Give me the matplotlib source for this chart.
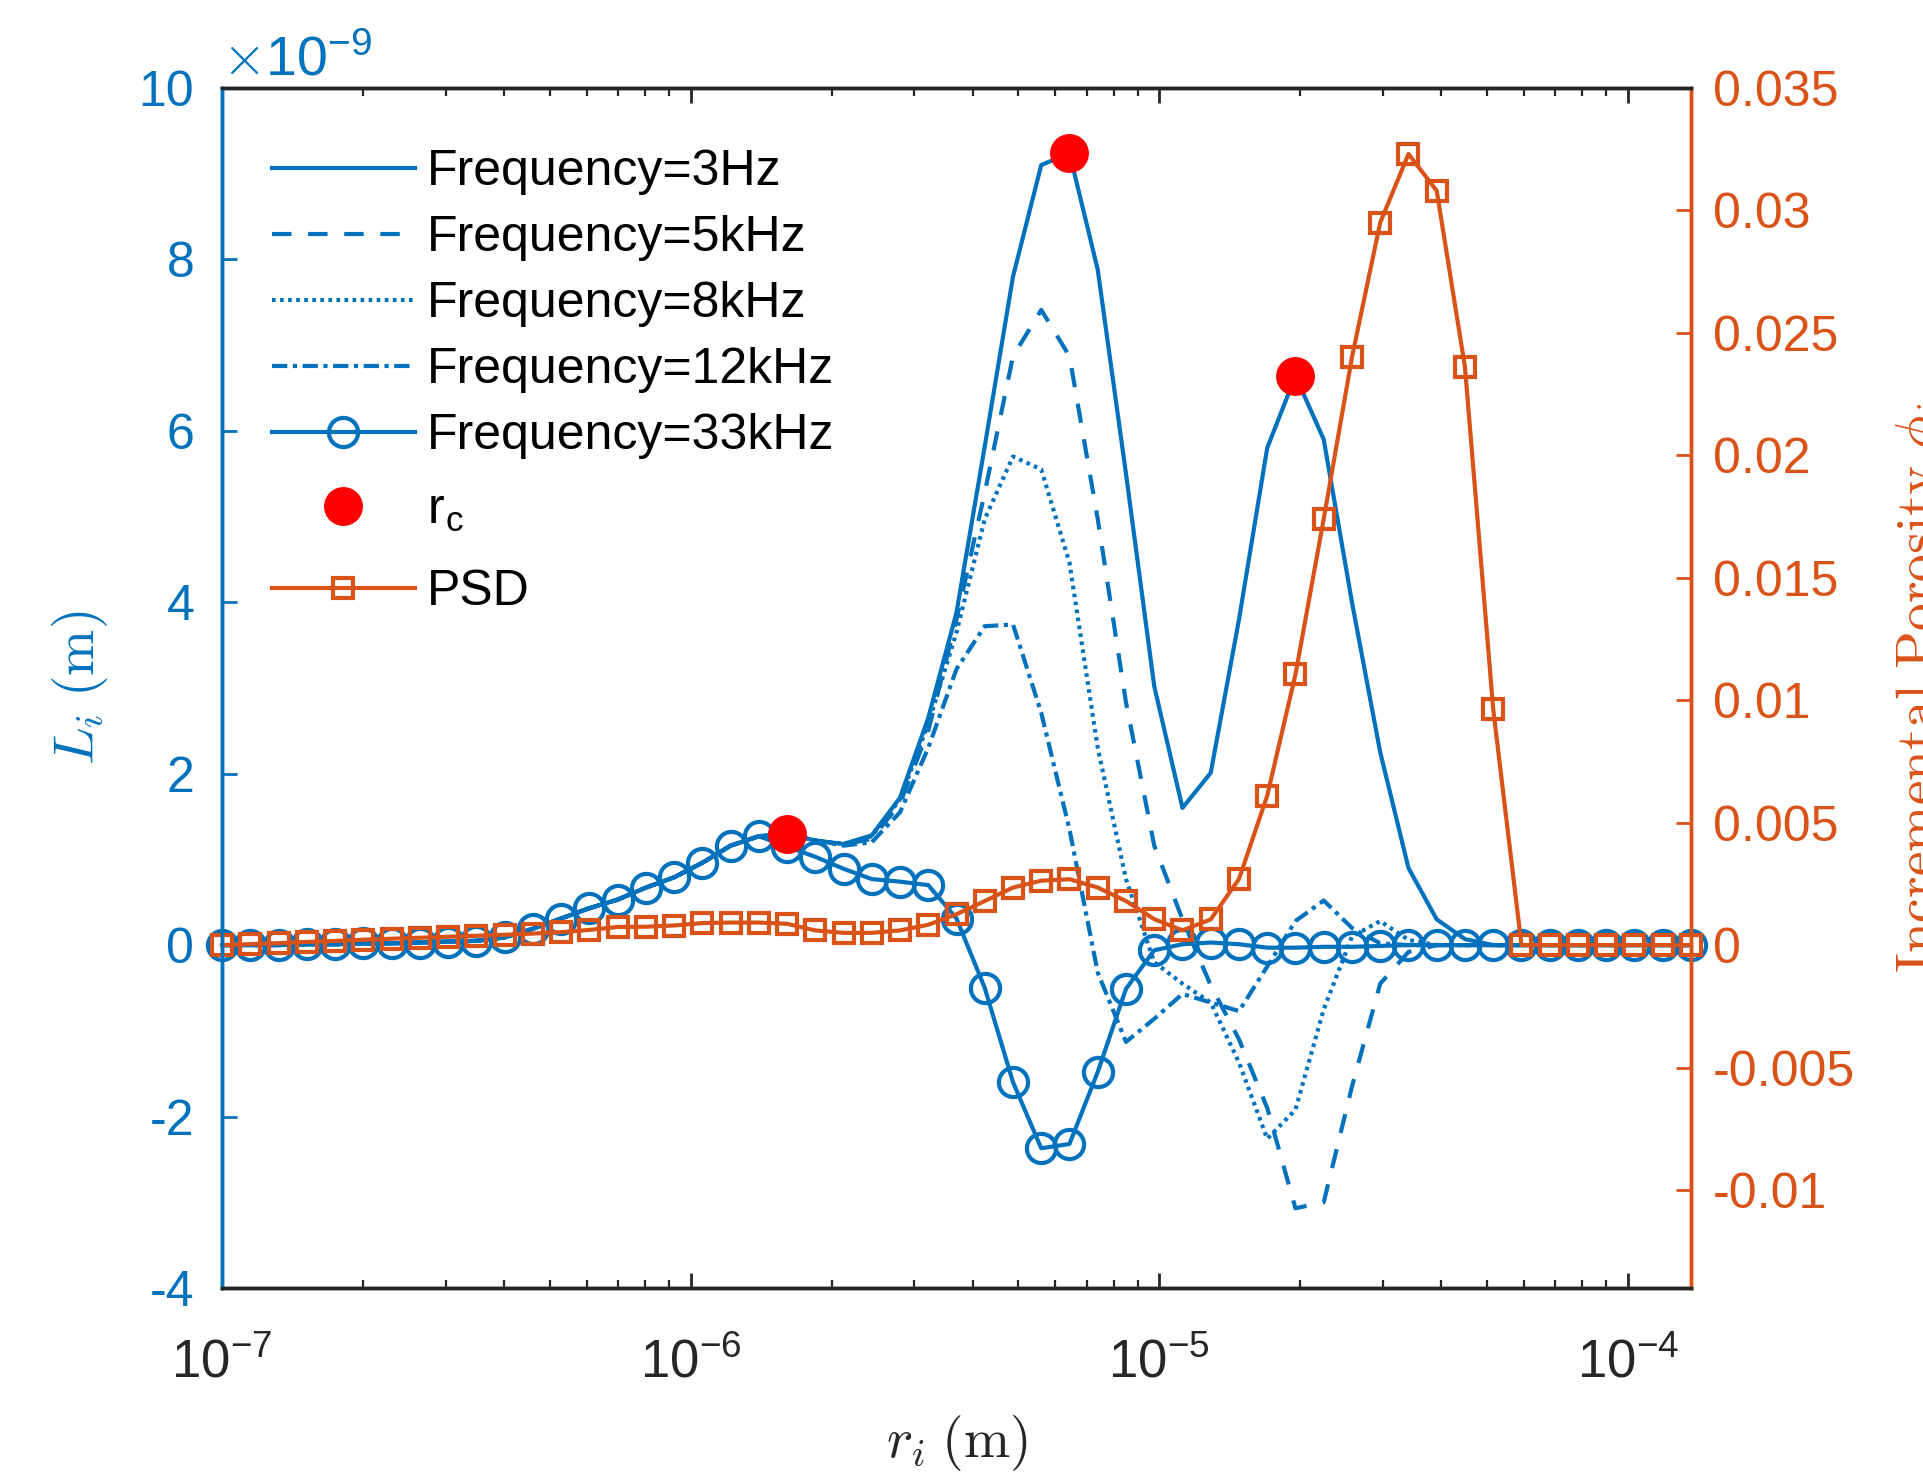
import numpy as np
import matplotlib
matplotlib.use('Agg')
import matplotlib.pyplot as plt
from matplotlib.ticker import ScalarFormatter, LogLocator, NullFormatter

# ---------------- data ----------------
# pore radius r_i (m)
r = [1.000e-7, 1.149e-7, 1.320e-7, 1.517e-7, 1.743e-7, 2.002e-7, 2.300e-7, 2.642e-7,
     3.036e-7, 3.488e-7, 4.007e-7, 4.604e-7, 5.290e-7, 6.077e-7, 6.982e-7, 8.022e-7,
     9.216e-7, 1.059e-6, 1.217e-6, 1.398e-6, 1.606e-6, 1.845e-6, 2.120e-6, 2.435e-6,
     2.798e-6, 3.214e-6, 3.693e-6, 4.243e-6, 4.875e-6, 5.600e-6, 6.434e-6, 7.392e-6,
     8.493e-6, 9.758e-6, 1.121e-5, 1.288e-5, 1.480e-5, 1.700e-5, 1.953e-5, 2.244e-5,
     2.578e-5, 2.962e-5, 3.403e-5, 3.910e-5, 4.492e-5, 5.161e-5, 5.930e-5, 6.813e-5,
     7.827e-5, 8.992e-5, 1.033e-4, 1.187e-4, 1.364e-4]

# L_i in units of 1e-9 m
L_3Hz = [0.0, 0.0, 0.0, 0.01, 0.01, 0.02, 0.02, 0.03, 0.04, 0.05, 0.09, 0.19, 0.31, 0.43,
         0.53, 0.67, 0.79, 0.96, 1.16, 1.27, 1.30, 1.22, 1.18, 1.28, 1.72, 2.65, 3.88, 5.82,
         7.80, 9.10, 9.24, 7.88, 5.50, 3.02, 1.60, 2.01, 3.80, 5.80, 6.64, 5.90, 4.00, 2.25,
         0.90, 0.30, 0.07, 0.0, 0.0, 0.0, 0.0, 0.0, 0.0, 0.0, 0.0]
L_5kHz = [0.0, 0.0, 0.0, 0.01, 0.01, 0.02, 0.02, 0.03, 0.04, 0.05, 0.09, 0.19, 0.31, 0.43,
          0.53, 0.67, 0.79, 0.96, 1.16, 1.27, 1.30, 1.22, 1.17, 1.24, 1.65, 2.50, 3.80, 5.28,
          6.87, 7.41, 6.87, 4.97, 2.83, 1.16, 0.30, -0.47, -1.10, -1.90, -3.07, -3.00, -1.65,
          -0.45, -0.08, 0.0, 0.0, 0.0, 0.0, 0.0, 0.0, 0.0, 0.0, 0.0, 0.0]
L_8kHz = [0.0, 0.0, 0.0, 0.01, 0.01, 0.02, 0.02, 0.03, 0.04, 0.05, 0.09, 0.19, 0.31, 0.43,
          0.53, 0.67, 0.79, 0.96, 1.16, 1.27, 1.30, 1.22, 1.18, 1.27, 1.70, 2.58, 3.65, 4.97,
          5.70, 5.55, 4.46, 2.30, 0.77, -0.20, -0.45, -0.67, -1.37, -2.26, -1.92, -0.75, 0.10,
          0.28, 0.06, 0.0, 0.0, 0.0, 0.0, 0.0, 0.0, 0.0, 0.0, 0.0, 0.0]
L_12kHz = [0.0, 0.0, 0.0, 0.01, 0.01, 0.02, 0.02, 0.03, 0.04, 0.05, 0.09, 0.19, 0.31, 0.43,
           0.53, 0.67, 0.79, 0.96, 1.16, 1.27, 1.30, 1.22, 1.16, 1.20, 1.55, 2.30, 3.22, 3.72,
           3.74, 2.71, 1.35, -0.32, -1.13, -0.86, -0.57, -0.67, -0.77, -0.25, 0.28, 0.52, 0.20,
           0.02, 0.0, 0.0, 0.0, 0.0, 0.0, 0.0, 0.0, 0.0, 0.0, 0.0, 0.0]
L_33kHz = [0.0, 0.0, 0.0, 0.01, 0.01, 0.02, 0.02, 0.03, 0.04, 0.05, 0.09, 0.19, 0.31, 0.43,
           0.53, 0.67, 0.79, 0.96, 1.16, 1.27, 1.15, 1.03, 0.89, 0.77, 0.74, 0.70, 0.31, -0.50,
           -1.60, -2.37, -2.32, -1.48, -0.51, -0.06, 0.01, 0.03, 0.01, -0.03, -0.03, -0.02,
           -0.02, -0.01, 0.0, 0.0, 0.0, 0.0, 0.0, 0.0, 0.0, 0.0, 0.0, 0.0, 0.0]

# critical radii r_c (on the 3 Hz curve)
rc_r = [1.606e-6, 6.434e-6, 1.953e-5]
rc_L = [1.30, 9.24, 6.64]

# pore size distribution (incremental porosity)
psd = [0.0, 0.00004, 0.00008, 0.00013, 0.00017, 0.00022, 0.00026, 0.00030, 0.00034,
       0.00038, 0.00042, 0.00047, 0.00053, 0.00062, 0.00074, 0.00075, 0.00080, 0.00090,
       0.00092, 0.00092, 0.00087, 0.00060, 0.00050, 0.00050, 0.00060, 0.00083, 0.00126,
       0.00180, 0.00235, 0.00263, 0.00269, 0.00235, 0.00180, 0.00106, 0.00060, 0.00105,
       0.00270, 0.00610, 0.01105, 0.01740, 0.02400, 0.02950, 0.03230, 0.03080, 0.02360,
       0.00963, 0.0, 0.0, 0.0, 0.0, 0.0, 0.0, 0.0]

labels = ['Frequency=3Hz', 'Frequency=5kHz', 'Frequency=8kHz', 'Frequency=12kHz',
          'Frequency=33kHz', r'r$_\mathregular{c}$', 'PSD']
left_ticks = [-4, -2, 0, 2, 4, 6, 8, 10]
right_ticks = [-0.01, -0.005, 0, 0.005, 0.01, 0.015, 0.02, 0.025, 0.03, 0.035]

# ---------------- style ----------------
plt.rcParams['font.family'] = ['Liberation Sans', 'DejaVu Sans']
plt.rcParams['mathtext.fontset'] = 'cm'
plt.rcParams['axes.unicode_minus'] = False
plt.rcParams['lines.scale_dashes'] = False

BLUE = '#0072BD'
ORANGE = '#D95319'
DARK = '#262626'
FS = 36
LFS = 40
LW = 3.0


class PlainSciFormatter(ScalarFormatter):
    """Scientific offset (x10^n) but plain-text tick labels with ASCII hyphen."""
    def _set_format(self):
        super()._set_format()
        self.format = self.format.replace(r'$\mathdefault{', '').replace('}$', '')


fig = plt.figure(figsize=(19.24, 14.75), dpi=100)
fig.patch.set_facecolor('white')
ax = fig.add_axes([0.1154, 0.1268, 0.7635, 0.8136])

scale = 1e-9
to_m = lambda v: np.asarray(v) * scale

h1, = ax.plot(r, to_m(L_3Hz), color=BLUE, lw=LW, ls='-')
h2, = ax.plot(r, to_m(L_5kHz), color=BLUE, lw=LW, ls=(0, (14, 12)))
h3, = ax.plot(r, to_m(L_8kHz), color=BLUE, lw=LW, ls=(0, (2.6, 3.2)))
h4, = ax.plot(r, to_m(L_12kHz), color=BLUE, lw=LW, ls=(0, (11, 4, 3, 4)))
h5, = ax.plot(r, to_m(L_33kHz), color=BLUE, lw=LW, ls='-', marker='o', ms=21,
              mfc='none', mew=LW, clip_on=False)
h6, = ax.plot(rc_r, to_m(rc_L), ls='none', marker='o', ms=27, color='red',
              mec='red', clip_on=False, zorder=5)

ax.set_xscale('log')
ax.set_xlim(r[0], r[-1])
ax.set_ylim(left_ticks[0] * scale, left_ticks[-1] * scale)
ax.set_yticks([t * scale for t in left_ticks])
fmt = PlainSciFormatter(useMathText=True)
fmt.set_powerlimits((-9, -9))
ax.yaxis.set_major_formatter(fmt)
ax.yaxis.offsetText.set_fontsize(40)
ax.yaxis.offsetText.set_color(BLUE)
ax.yaxis.OFFSETTEXTPAD = 9

ax.xaxis.set_major_locator(LogLocator(base=10, numticks=10))
ax.xaxis.set_minor_locator(LogLocator(base=10, subs=np.arange(2, 10), numticks=100))
ax.xaxis.set_minor_formatter(NullFormatter())

ax.tick_params(axis='x', which='major', direction='in', top=True, bottom=True,
               length=11, width=2, color=DARK, labelcolor=DARK, labelsize=38, pad=36)
ax.tick_params(axis='x', which='minor', direction='in', top=True, bottom=True,
               length=5.5, width=1.6, color=DARK)
ax.tick_params(axis='y', which='both', direction='in', left=True, right=False,
               length=11, width=2, colors=BLUE, labelsize=FS, pad=20)

ax2 = ax.twinx()
h7, = ax2.plot(r, psd, color=ORANGE, lw=LW, marker='s', ms=15, mfc='none', mew=LW,
               clip_on=False)
ax2.set_ylim(-0.014, 0.035)
ax2.set_yticks(right_ticks, labels=[f'{t:g}' for t in right_ticks])
ax2.tick_params(axis='y', which='both', direction='in', right=True, left=False,
                length=11, width=2, colors=ORANGE, labelsize=FS, pad=16)

for a in (ax, ax2):
    a.spines['left'].set_color(BLUE)
    a.spines['right'].set_color(ORANGE)
    a.spines['top'].set_color(DARK)
    a.spines['bottom'].set_color(DARK)
    for s in a.spines.values():
        s.set_linewidth(2.5)

ax.set_xlabel(r'$r_i\;(\mathrm{m})$', fontsize=LFS, color=DARK)
ax.xaxis.set_label_coords(0.5, -0.104)
ax.set_ylabel(r'$L_i\;(\mathrm{m})$', fontsize=LFS, color=BLUE)
ax.yaxis.set_label_coords(-0.076, 0.5)
ax2.set_ylabel(r'$\mathrm{Incremental\ Porosity}\ \phi_i$', fontsize=LFS, color=ORANGE)
ax2.yaxis.set_label_coords(1.138, 0.5)

leg_kw = dict(frameon=False, fontsize=FS, handlelength=2.86, handletextpad=0.24,
              labelspacing=0.40, borderpad=0, borderaxespad=0)
legA = ax2.legend([h1, h2, h3, h4, h5], labels[:5], loc='upper left',
                  bbox_to_anchor=(0.034, 0.949), **leg_kw)
ax2.add_artist(legA)
legB = ax2.legend([h6], [labels[5]], loc='center left',
                  bbox_to_anchor=(0.034, 0.648), **leg_kw)
ax2.add_artist(legB)
legC = ax2.legend([h7], [labels[6]], loc='center left',
                  bbox_to_anchor=(0.034, 0.5796), **leg_kw)

fig.savefig('out.png', dpi=100)
